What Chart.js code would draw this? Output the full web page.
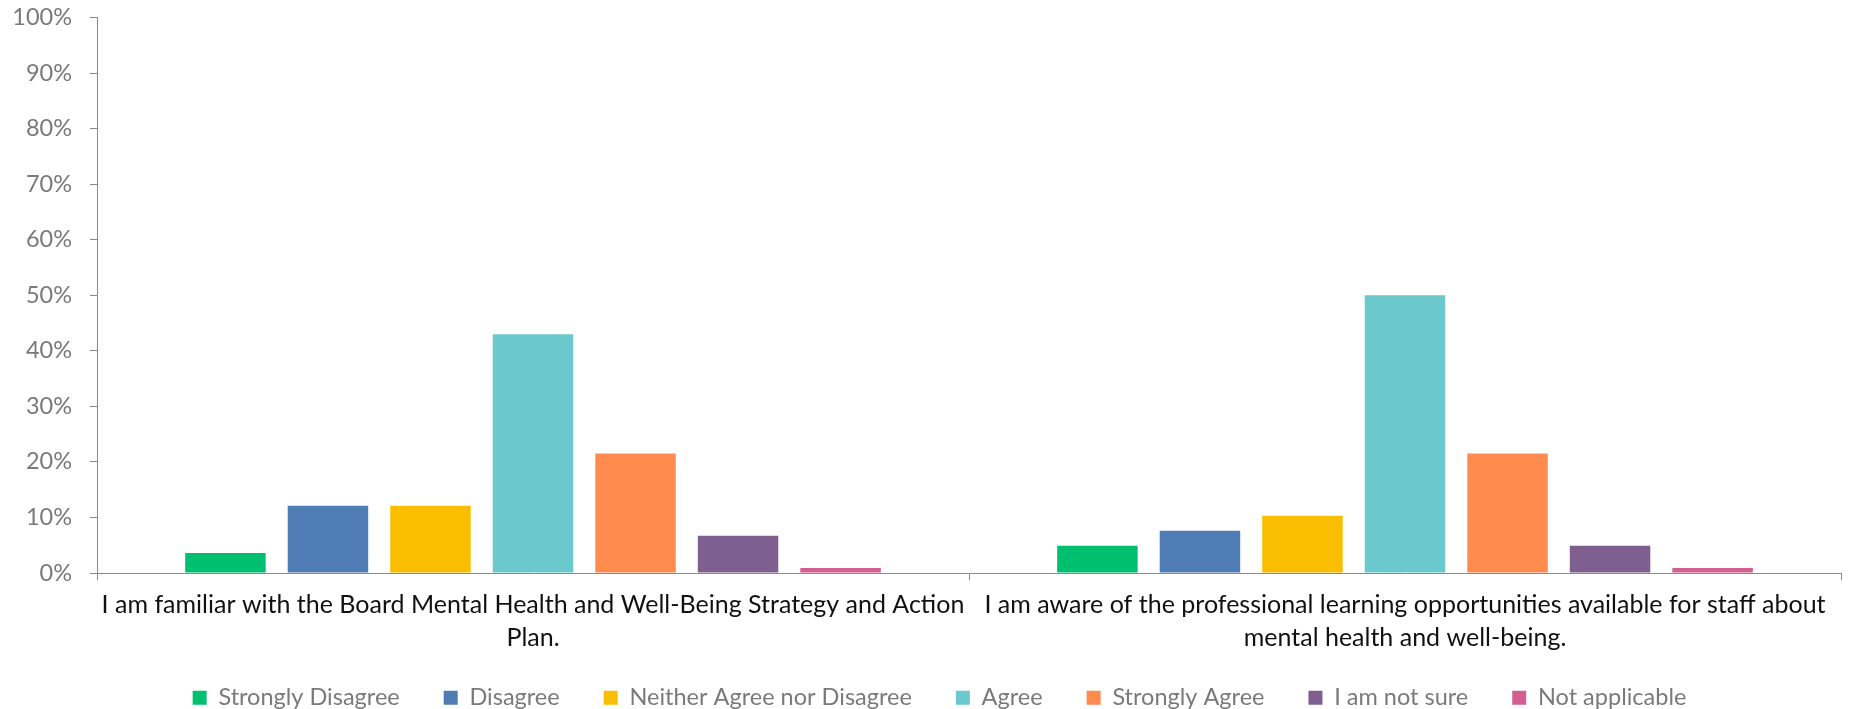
<!DOCTYPE html>
<html>
<head>
<meta charset="utf-8">
<script src="https://cdn.jsdelivr.net/npm/chart.js@4/dist/chart.umd.min.js"></script>
<style>
  html, body { margin: 0; padding: 0; background: #fff; }
  #wrap { width: 1853px; height: 709px; }
</style>
</head>
<body>
<div id="wrap"><canvas id="c" width="1853" height="709"></canvas></div>
<script>
// Survey statements (each wrapped onto two lines)
const statements = [
  ["I am familiar with the Board Mental Health and Well-Being Strategy and Action", "Plan."],
  ["I am aware of the professional learning opportunities available for staff about", "mental health and well-being."]
];

// Response options and their colours
const responses = ["Strongly Disagree", "Disagree", "Neither Agree nor Disagree", "Agree", "Strongly Agree", "I am not sure", "Not applicable"];
const responseColors = ["#00BF6F", "#507CB6", "#F9BE00", "#6BC8CD", "#FF8B4F", "#7F5F90", "#D25F90"];

// Percent of respondents per response, one value per statement
const stronglyDisagree = [3.6, 4.9];
const disagree        = [12.1, 7.6];
const neither         = [12.1, 10.3];
const agree           = [43.0, 50.0];
const stronglyAgree   = [21.5, 21.5];
const notSure         = [6.7, 4.9];
const notApplicable   = [0.9, 0.9];

// Y-axis ticks
const yTicks = [0, 10, 20, 30, 40, 50, 60, 70, 80, 90, 100];

const seriesValues = [stronglyDisagree, disagree, neither, agree, stronglyAgree, notSure, notApplicable];

const FONT = "Lato, 'Open Sans', sans-serif";
const AXIS = "#8a8a8a";

// Lift the legend row closer to the axis labels and nudge it right
const legendLift = {
  id: "legendLift",
  afterLayout(chart) {
    const lg = chart.legend;
    if (lg) {
      lg.top -= 16; lg.height += 16;
      lg.left += 19; lg.right += 19;
    }
  }
};

new Chart(document.getElementById("c"), {
  type: "bar",
  data: {
    labels: statements,
    datasets: responses.map((name, i) => ({
      label: name,
      data: seriesValues[i],
      backgroundColor: responseColors[i],
      borderWidth: 0,
      categoryPercentage: 0.823,
      barPercentage: 0.785
    }))
  },
  options: {
    responsive: false,
    animation: false,
    layout: { padding: { left: 0, right: 12, top: 0, bottom: 0 } },
    scales: {
      x: {
        grid: { display: true, drawOnChartArea: false, color: AXIS, tickLength: 7, tickColor: AXIS, offset: true },
        border: { display: true, color: AXIS, width: 1 },
        ticks: {
          color: "#111111",
          font: { family: FONT, size: 25, lineHeight: 1.32 },
          padding: 8,
          maxRotation: 0,
          autoSkip: false
        },
        afterFit: s => { s.height = 85; }
      },
      y: {
        min: 0,
        max: 100,
        afterBuildTicks: s => { s.ticks = yTicks.map(v => ({ value: v })); },
        grid: { display: true, drawOnChartArea: false, color: AXIS, tickLength: 7, tickColor: AXIS },
        border: { display: true, color: AXIS, width: 1 },
        ticks: {
          color: "#7a7a7a",
          font: { family: FONT, size: 23.5 },
          padding: 18,
          callback: v => v + "%"
        },
        afterFit: s => { s.width = 97; s.paddingTop = 17.5; s.paddingBottom = 0; }
      }
    },
    plugins: {
      tooltip: { enabled: false },
      legend: {
        position: "bottom",
        maxHeight: 51,
        labels: {
          color: "#7a7a7a",
          font: { family: FONT, size: 23.5 },
          boxWidth: 14,
          boxHeight: 14,
          padding: 44
        }
      }
    }
  },
  plugins: [legendLift]
});
</script>
</body>
</html>
